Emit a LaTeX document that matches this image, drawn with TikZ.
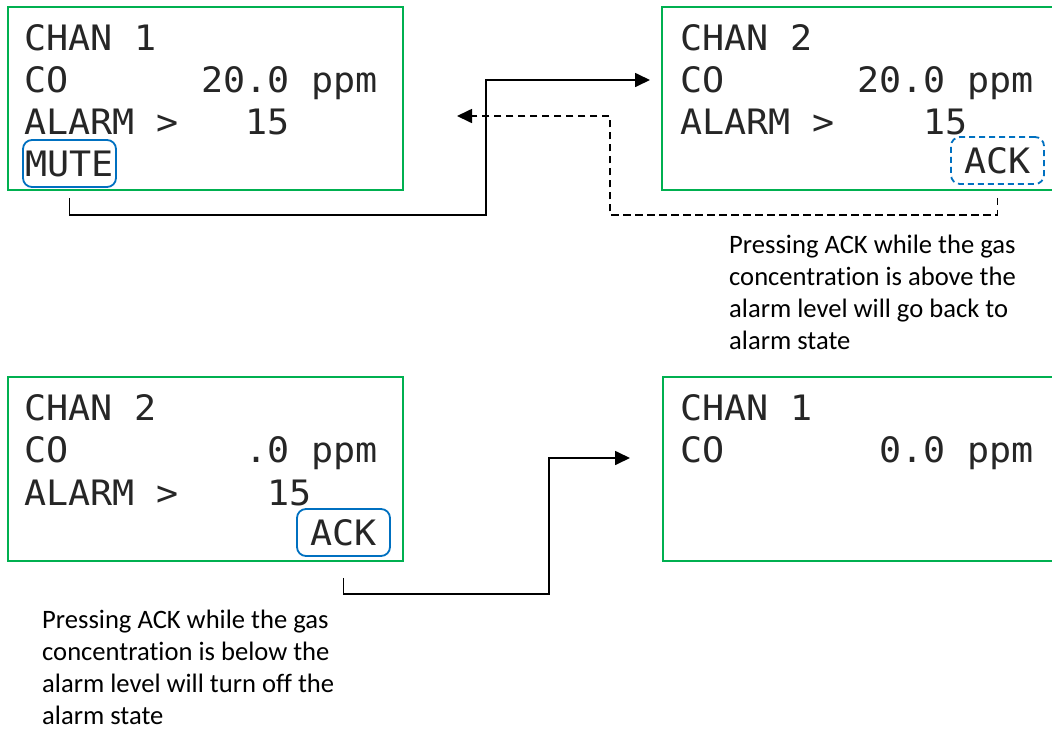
\documentclass[tikz,border=0pt]{standalone}
\usepackage{fontspec}
\newfontfamily\lcd{DejaVu Sans Mono}[FakeStretch=1.049]
\newfontfamily\notefont{Carlito}[Ligatures=CommonOff]
\usetikzlibrary{arrows.meta}
\definecolor{scrgreen}{RGB}{0,176,80}
\definecolor{btnblue}{RGB}{0,112,192}
\begin{document}
\begin{tikzpicture}[x=1pt,y=-1pt,
  screen/.style={draw=scrgreen, line width=2pt, anchor=north west, inner sep=0pt},
  lcdtext/.style={anchor=base west, inner sep=0pt, text=black!85, font=\lcd\fontsize{35}{42}\selectfont},
  btn/.style={draw=btnblue, line width=1.8pt, rounded corners=9pt, inner sep=0pt, text=black!85,
    minimum width=93pt, minimum height=47pt, font=\lcd\fontsize{35}{42}\selectfont},
  btndash/.style={btn, dash pattern=on 6pt off 4pt},
  notetext/.style={anchor=base west, inner sep=0pt, font=\notefont\fontsize{26.6}{32}\selectfont},
  conn/.style={line width=1.7pt, -{Triangle[length=15pt,width=14pt]}},
  connback/.style={conn, dash pattern=on 7.5pt off 4.5pt},
]
\useasboundingbox (0,0) rectangle (1052,742);

% screens
\node[screen, minimum width=395pt, minimum height=183pt] (s1) at (7,6) {};
\node[screen, minimum width=393pt, minimum height=183pt] (s2) at (661,6) {};
\node[screen, minimum width=395pt, minimum height=184pt] (s3) at (7,376) {};
\node[screen, minimum width=392pt, minimum height=184pt] (s4) at (662,376) {};

% screen 1
\node[lcdtext] (s1l1) at (24,50) {CHAN~1};
\node[lcdtext] (s1l2) at (24,92) {CO~~~~~~20.0~ppm};
\node[lcdtext] (s1l3) at (24,134) {ALARM~>~~~15};
\node[btn] (mute) at (69.5,163.5) {MUTE};

% screen 2
\node[lcdtext] (s2l1) at (680,50) {CHAN~2};
\node[lcdtext] (s2l2) at (680,92) {CO~~~~~~20.0~ppm};
\node[lcdtext] (s2l3) at (680,134) {ALARM~>~~~~15};
\node[btndash] (ack1) at (997.5,160.5) {ACK};

% screen 3
\node[lcdtext] (s3l1) at (24,420) {CHAN~2};
\node[lcdtext] (s3l2) at (24,462) {CO~~~~~~~~.0~ppm};
\node[lcdtext] (s3l3) at (24,505) {ALARM~>~~~~15};
\node[btn] (ack2) at (343.5,532.5) {ACK};

% screen 4
\node[lcdtext] (s4l1) at (680,420) {CHAN~1};
\node[lcdtext] (s4l2) at (680,462) {CO~~~~~~~0.0~ppm};

% connector end points
\coordinate (in2) at (650,80);
\coordinate (in1) at (457,116);
\coordinate (in4) at (630,458);

\draw[conn] ([yshift=-10pt]mute.south) -- ++(0,17) -| (486,80) -- (in2);
\draw[connback] ([yshift=-13pt]ack1.south) -- ++(0,17) -| (610,116) -- (in1);
\draw[conn] ([yshift=-21pt]ack2.south) -- ++(0,16) -| (549,458) -- (in4);

% notes
\node[notetext] (n1a) at (729,253) {Pressing ACK while the gas};
\node[notetext] (n1b) at (729,285) {concentration is above the};
\node[notetext] (n1c) at (729,317) {alarm level will go back to};
\node[notetext] (n1d) at (729,349) {alarm state};

\node[notetext] (n2a) at (42,628) {Pressing ACK while the gas};
\node[notetext] (n2b) at (42,660) {concentration is below the};
\node[notetext] (n2c) at (42,692) {alarm level will turn off the};
\node[notetext] (n2d) at (42,724) {alarm state};
\end{tikzpicture}
\end{document}
